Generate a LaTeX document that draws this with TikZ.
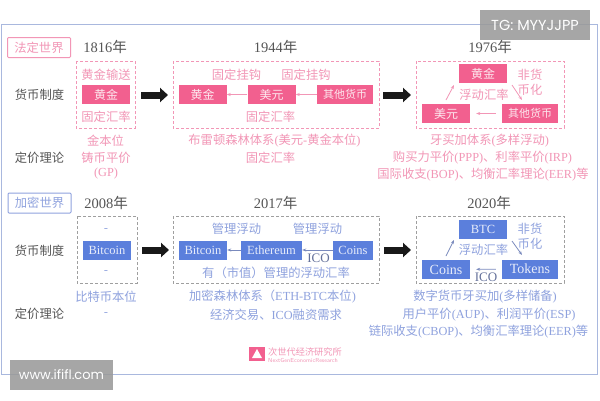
\documentclass[tikz,border=0pt]{standalone}
\usepackage{fontspec}
\setmainfont{Liberation Serif}
\newfontfamily\cjk{Noto Sans CJK SC}
\newfontfamily\wmfont{Poppins}
\usepackage{tikz}
\usetikzlibrary{arrows.meta}
\newcommand{\lat}[1]{{\rmfamily #1}}
\definecolor{fiatpink}{HTML}{F2608F}
\definecolor{fiattext}{HTML}{F296B6}
\definecolor{cryptoblue}{HTML}{5B7FDC}
\definecolor{cryptotext}{HTML}{8FA2DE}
\definecolor{framegrey}{HTML}{A9B8DE}
\definecolor{inktext}{HTML}{555555}
\tikzset{
    fiatbox/.style={fill=fiatpink, text=white!85!fiatpink, minimum width=48pt, minimum height=19pt, inner sep=0pt, font=\fontsize{12}{14}\selectfont\cjk},
    cryptobox/.style={fill=cryptoblue, text=white!85!cryptoblue, minimum width=48pt, minimum height=19pt, inner sep=0pt, font=\fontsize{12.5}{14}\selectfont},
    fiatframe/.style={draw=fiattext, densely dashed, line width=0.9pt},
    cryptoframe/.style={draw=gray!75, densely dashed, line width=0.9pt},
    fiatlabel/.style={text=fiattext, font=\fontsize{12.3}{15}\selectfont\cjk, inner sep=0pt},
    cryptolabel/.style={text=cryptotext, font=\fontsize{12.3}{15}\selectfont\cjk, inner sep=0pt},
    icolabel/.style={text=cryptotext!70!black, font=\fontsize{13}{14}\selectfont, inner sep=0pt},
    rowlabel/.style={text=inktext, font=\fontsize{12.3}{15}\selectfont\cjk, inner sep=0pt},
    yearlabel/.style={text=inktext, font=\fontsize{14.5}{16}\selectfont, inner sep=0pt},
    tagbox/.style={rounded corners=1pt, line width=1pt, minimum width=63pt, minimum height=20pt, inner sep=0pt, font=\fontsize{12.3}{15}\selectfont\cjk},
    bigarrow/.style={-{Triangle[length=8pt,width=14pt]}, line width=7pt, black!90},
    fiatlink/.style={-{Stealth[length=4pt]}, fiattext, line width=0.8pt},
    cryptolink/.style={-{Stealth[length=4pt]}, cryptotext!85!black, line width=0.8pt},
    wmbox/.style={fill=black!40, fill opacity=0.87, text opacity=1, text=white, minimum height=30pt, inner sep=0pt, font=\fontsize{13}{14}\selectfont\wmfont},
}
\begin{document}
\begin{tikzpicture}[x=1pt, y=-1pt]
    \useasboundingbox (0,0) rectangle (600,400);
    \fill[white] (0,0) rectangle (600,400);
    \draw[framegrey, line width=0.9pt] (1,24.5) rectangle (597,374);

    % Row labels
    \foreach \rowy/\rowtext in {95/货币制度, 158/定价理论, 250.5/货币制度, 314/定价理论} {
        \node[rowlabel] at (39.5,\rowy) {\rowtext};
    }

    % Fiat world
    \node[tagbox, draw=fiattext, text=fiattext] (fiattag) at (39,47.5) {法定世界};
    \node[yearlabel] (y1816) at (105,47) {1816\cjk 年};
    \node[yearlabel] (y1944) at (275.5,47) {1944\cjk 年};
    \node[yearlabel] (y1976) at (490,47) {1976\cjk 年};
    \draw[fiatframe] (76,61) rectangle (135,128);
    \draw[fiatframe] (173,61) rectangle (379,128);
    \draw[fiatframe] (416,61) rectangle (564,128);

    \node[fiatlabel] at (106,75) {黄金输送};
    \node[fiatbox] (gold1) at (106,94.5) {黄金};
    \node[fiatlabel] at (106,117) {固定汇率};
    \node[fiatlabel] at (105.5,141) {金本位};
    \node[fiatlabel] at (106,158) {铸币平价};
    \node[fiatlabel] at (106,174) {\lat{(GP)}};

    \coordinate (arrowa) at (141,95);
    \coordinate (arrowb) at (168,95);
    \draw[bigarrow] (arrowa) -- (arrowb);

    \node[fiatlabel] at (236.5,75) {固定挂钩};
    \node[fiatlabel] at (306,75) {固定挂钩};
    \node[fiatbox] (gold2) at (202.5,94.5) {黄金};
    \node[fiatbox] (usd2) at (271.5,94.5) {美元};
    \node[fiatbox, minimum width=56pt, font=\fontsize{11}{14}\selectfont\cjk] (other2) at (345,94.5) {其他货币};
    \draw[fiatlink] (usd2) -- (gold2);
    \draw[fiatlink] (other2) -- (usd2);
    \node[fiatlabel] at (270.5,117) {固定汇率};
    \node[fiatlabel] at (274.5,141) {布雷顿森林体系\lat{(}美元\lat{-}黄金本位\lat{)}};
    \node[fiatlabel] at (270.5,158) {固定汇率};

    \coordinate (arrowc) at (383,95);
    \coordinate (arrowd) at (411,95);
    \draw[bigarrow] (arrowc) -- (arrowd);

    \node[fiatbox] (gold3) at (483,73.5) {黄金};
    \node[fiatbox] (usd3) at (446,113.5) {美元};
    \node[fiatbox, minimum width=56pt, font=\fontsize{11}{14}\selectfont\cjk] (other3) at (530,113.5) {其他货币};
    \coordinate (fiatupa) at (446,100);
    \coordinate (fiatupb) at (454,85);
    \coordinate (fiatdowna) at (512,85);
    \coordinate (fiatdownb) at (522,100);
    \draw[fiatlink] (fiatupa) -- (fiatupb);
    \draw[fiatlink] (fiatdowna) -- (fiatdownb);
    \draw[fiatlink, shorten >=6pt, shorten <=6pt] (other3) -- (usd3);
    \node[fiatlabel] at (484,95) {浮动汇率};
    \node[fiatlabel, align=center] at (530,82) {非货\\币化};
    \node[fiatlabel] at (489.5,141) {牙买加体系\lat{(}多样浮动\lat{)}};
    \node[fiatlabel] at (482.5,158) {购买力平价\lat{(PPP)}、利率平价\lat{(IRP)}};
    \node[fiatlabel] at (483,175) {国际收支\lat{(BOP)}、均衡汇率理论\lat{(EER)}等};

    % Crypto world
    \node[tagbox, draw=cryptotext, text=cryptotext] (cryptotag) at (39.5,203) {加密世界};
    \node[yearlabel] (y2008) at (106,202.5) {2008\cjk 年};
    \node[yearlabel] (y2017) at (275.5,202.5) {2017\cjk 年};
    \node[yearlabel] (y2020) at (489,202.5) {2020\cjk 年};
    \draw[cryptoframe] (77,216) rectangle (137,283);
    \draw[cryptoframe] (173,216) rectangle (379,283);
    \draw[cryptoframe] (416,216) rectangle (564,283);

    \node[cryptolabel] at (106,231) {-};
    \node[cryptobox] (btc1) at (107,250) {Bitcoin};
    \node[cryptolabel] at (106,273) {-};
    \node[cryptolabel] at (106,297) {比特币本位};
    \node[cryptolabel] at (106,315) {-};

    \coordinate (arrowe) at (142,250);
    \coordinate (arrowf) at (169,250);
    \draw[bigarrow] (arrowe) -- (arrowf);

    \node[cryptolabel] at (236.5,229) {管理浮动};
    \node[cryptolabel] at (317.5,229) {管理浮动};
    \node[cryptobox] (btc2) at (203,250) {Bitcoin};
    \node[cryptobox, minimum width=61pt] (eth2) at (271.5,250) {Ethereum};
    \node[cryptobox, minimum width=40pt] (coins2) at (353,250) {Coins};
    \draw[cryptolink] (eth2) -- (btc2);
    \draw[cryptolink] (coins2) -- (eth2);
    \node[icolabel] at (318.5,258) {ICO};
    \node[cryptolabel] at (276,272.5) {有（市值）管理的浮动汇率};
    \node[cryptolabel] at (272.5,297) {加密森林体系（\lat{ETH-BTC}本位\lat{)}};
    \node[cryptolabel] at (276,315) {经济交易、\lat{ICO}融资需求};

    \coordinate (arrowg) at (384,250);
    \coordinate (arrowh) at (411,250);
    \draw[bigarrow] (arrowg) -- (arrowh);

    \node[cryptobox] (btc3) at (483,229.5) {BTC};
    \node[cryptobox, font=\fontsize{14}{14}\selectfont] (coins3) at (446,269.5) {Coins};
    \node[cryptobox, minimum width=56pt, font=\fontsize{14}{14}\selectfont] (tokens3) at (530,269) {Tokens};
    \coordinate (cryptoupa) at (446,256);
    \coordinate (cryptoupb) at (454,240);
    \coordinate (cryptodowna) at (512,241);
    \coordinate (cryptodownb) at (522,255);
    \draw[cryptolink] (cryptoupa) -- (cryptoupb);
    \draw[cryptolink] (cryptodowna) -- (cryptodownb);
    \draw[cryptolink, shorten >=6pt, shorten <=6pt] (tokens3) -- (coins3);
    \node[cryptolabel] at (483.5,250) {浮动汇率};
    \node[cryptolabel, align=center] at (530,236.5) {非货\\币化};
    \node[icolabel] at (486,277.5) {ICO};
    \node[cryptolabel] at (485,297) {数字货币牙买加\lat{(}多样储备\lat{)}};
    \node[cryptolabel] at (489,315) {用户平价\lat{(AUP)}、利润平价\lat{(ESP)}};
    \node[cryptolabel] at (478.5,332) {链际收支\lat{(CBOP)}、均衡汇率理论\lat{(EER)}等};

    % Logo
    \fill[fiatpink] (249,347) rectangle (265,361);
    \fill[white] (257,349) -- (262,358) -- (252,358) -- cycle;
    \node[text=fiattext, font=\fontsize{9.2}{10}\selectfont\cjk, inner sep=0pt, anchor=west] (logo) at (268,352) {次世代经济研究所};
    \node[text=fiattext, font=\fontsize{5.8}{6}\selectfont\sffamily, inner sep=0pt, anchor=west] (logosub) at (268,360.5) {NextGenEconomicResearch};

    % Watermarks
    \node[wmbox, minimum width=110pt, font=\fontsize{14.5}{15}\selectfont\wmfont] (tgmark) at (535,25) {TG: MYYJJPP};
    \node[wmbox, minimum width=103pt] (sitemark) at (61.5,375) {www.ififl.com};
\end{tikzpicture}
\end{document}
